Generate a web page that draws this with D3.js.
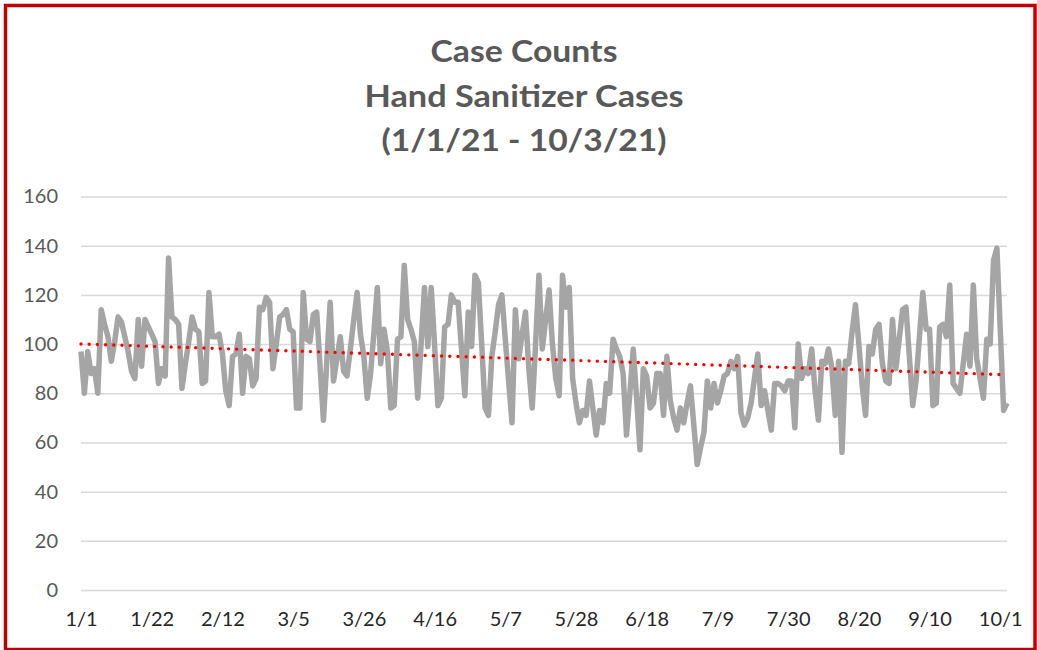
<!DOCTYPE html>
<html>
<head>
<meta charset="utf-8">
<script src="https://cdn.jsdelivr.net/npm/d3@7"></script>
<style>
  body { margin: 0; background: #fff; }
  svg { display: block; font-family: Lato, "Open Sans", sans-serif; }
</style>
</head>
<body>
<svg id="chart" width="1037" height="650"></svg>
<script>
// Daily counts, 1/1/21 through 10/3/21
const startDate = "2021-01-01";
const counts = [
  97, 80, 97, 88, 90, 80, 114, 108, 103, 93,
  101, 111, 109, 103, 97, 89, 86, 110, 91, 110,
  107, 104, 101, 84, 90, 87, 135, 111, 110, 108,
  82, 92, 101, 111, 106, 105, 84, 85, 121, 103,
  103, 104, 96, 81, 75, 95, 96, 104, 80, 95,
  94, 83, 86, 115, 114, 119, 117, 90, 100, 111,
  112, 114, 106, 105, 74, 74, 121, 102, 101, 112,
  113, 91, 69, 93, 117, 85, 94, 103, 89, 87,
  98, 110, 121, 104, 95, 78, 88, 105, 123, 92,
  106, 97, 74, 75, 102, 103, 132, 110, 106, 101,
  78, 100, 123, 99, 123, 100, 75, 78, 107, 108,
  120, 117, 117, 98, 79, 113, 99, 128, 125, 100,
  74, 71, 95, 105, 116, 120, 102, 85, 68, 114,
  94, 104, 113, 90, 74, 100, 128, 98, 110, 122,
  100, 86, 79, 128, 115, 123, 86, 76, 68, 73,
  71, 85, 74, 63, 73, 68, 84, 80, 102, 98,
  95, 88, 63, 80, 98, 78, 57, 90, 87, 74,
  76, 88, 88, 71, 95, 77, 70, 65, 74, 68,
  76, 83, 67, 51, 58, 64, 85, 74, 84, 76,
  81, 87, 88, 93, 90, 95, 72, 67, 70, 76,
  86, 96, 75, 81, 73, 65, 84, 84, 83, 81,
  85, 85, 66, 100, 86, 90, 88, 98, 81, 69,
  93, 92, 98, 90, 71, 93, 56, 93, 92, 105,
  116, 100, 83, 71, 99, 96, 106, 108, 92, 85,
  84, 110, 90, 102, 114, 115, 95, 75, 85, 103,
  121, 106, 106, 75, 76, 107, 108, 103, 124, 84,
  82, 80, 92, 104, 91, 124, 94, 86, 78, 102,
  100, 134, 139, 106, 73, 76
];
const xTickLabels = ["1/1", "1/22", "2/12", "3/5", "3/26", "4/16", "5/7", "5/28", "6/18", "7/9", "7/30", "8/20", "9/10", "10/1"];
const yTicks = [0, 20, 40, 60, 80, 100, 120, 140, 160];
const titleLines = ["Case Counts", "Hand Sanitizer Cases", "(1/1/21 - 10/3/21)"];

const CONFIG = {
  width: 1037,
  height: 650,
  plot: { left: 81, right: 1007, top: 196.5, bottom: 590 },
  titleBaselines: [62, 107, 151],
  titleWidths: [187, 319, 285], // Calibri is narrower, so stretch to the reference widths
  titleX: 524
};

const svg = d3.select("#chart");
const start = d3.utcParse("%Y-%m-%d")(startDate);
const data = counts.map((v, i) => ({ date: d3.utcDay.offset(start, i), value: v, i }));

const x = d3.scaleUtc()
  .domain(d3.extent(data, d => d.date))
  .range([CONFIG.plot.left, CONFIG.plot.right]);
const y = d3.scaleLinear()
  .domain([0, 160])
  .range([CONFIG.plot.bottom, CONFIG.plot.top]);

// frame
svg.append("rect")
  .attr("x", 5.5).attr("y", 5.5)
  .attr("width", 1029.5).attr("height", 644)
  .attr("fill", "#fff")
  .attr("stroke", "#c00000")
  .attr("stroke-width", 3.5);

// title
svg.append("g")
  .selectAll("text")
  .data(titleLines)
  .join("text")
  .attr("x", CONFIG.titleX)
  .attr("y", (d, i) => CONFIG.titleBaselines[i])
  .attr("text-anchor", "middle")
  .attr("fill", "#595959")
  .attr("textLength", (d, i) => CONFIG.titleWidths[i])
  .attr("lengthAdjust", "spacingAndGlyphs")
  .style("font-size", "31px")
  .style("font-weight", "bold")
  .text(d => d);

// y axis: gridlines + labels
const yAxis = d3.axisLeft(y).tickValues(yTicks).tickSize(-(CONFIG.plot.right - CONFIG.plot.left)).tickPadding(23);
svg.append("g")
  .attr("transform", `translate(${CONFIG.plot.left},0)`)
  .call(yAxis)
  .call(g => g.select(".domain").remove())
  .call(g => g.selectAll(".tick line").attr("stroke", "#d9d9d9").attr("stroke-width", 1.5))
  .call(g => g.selectAll(".tick text")
    .attr("fill", "#595959")
    .style("font-size", "20px")
    .style("font-family", "Lato, sans-serif"));

// x axis labels, every 21 days
const parseTick = d3.utcParse("%Y/%m/%d");
const xTickDates = xTickLabels.map(s => parseTick("2021/" + s));
const xAxis = d3.axisBottom(x).tickValues(xTickDates).tickSize(0).tickPadding(22)
  .tickFormat((d, i) => xTickLabels[i]);
svg.append("g")
  .attr("transform", `translate(0,${CONFIG.plot.bottom})`)
  .call(xAxis)
  .call(g => g.select(".domain").remove())
  .call(g => g.selectAll(".tick text")
    .attr("fill", "#262626")
    .style("font-size", "20px")
    .style("font-family", "Lato, sans-serif"));

// series line
const line = d3.line().x(d => x(d.date)).y(d => y(d.value));
svg.append("path")
  .datum(data)
  .attr("fill", "none")
  .attr("stroke", "#a5a5a5")
  .attr("stroke-width", 5.5)
  .attr("stroke-linejoin", "round")
  .attr("d", line);

// linear trendline (least squares on day index)
const n = data.length;
const mx = d3.mean(data, d => d.i);
const my = d3.mean(data, d => d.value);
const slope = d3.sum(data, d => (d.i - mx) * (d.value - my)) / d3.sum(data, d => (d.i - mx) ** 2);
const intercept = my - slope * mx;
const trend = [data[0], data[n - 1]].map(d => ({ date: d.date, value: intercept + slope * d.i }));
svg.append("path")
  .datum(trend)
  .attr("fill", "none")
  .attr("stroke", "#ff0000")
  .attr("stroke-width", 3.4)
  .attr("stroke-linecap", "round")
  .attr("stroke-dasharray", "0 8.2")
  .attr("d", line);
</script>
</body>
</html>
